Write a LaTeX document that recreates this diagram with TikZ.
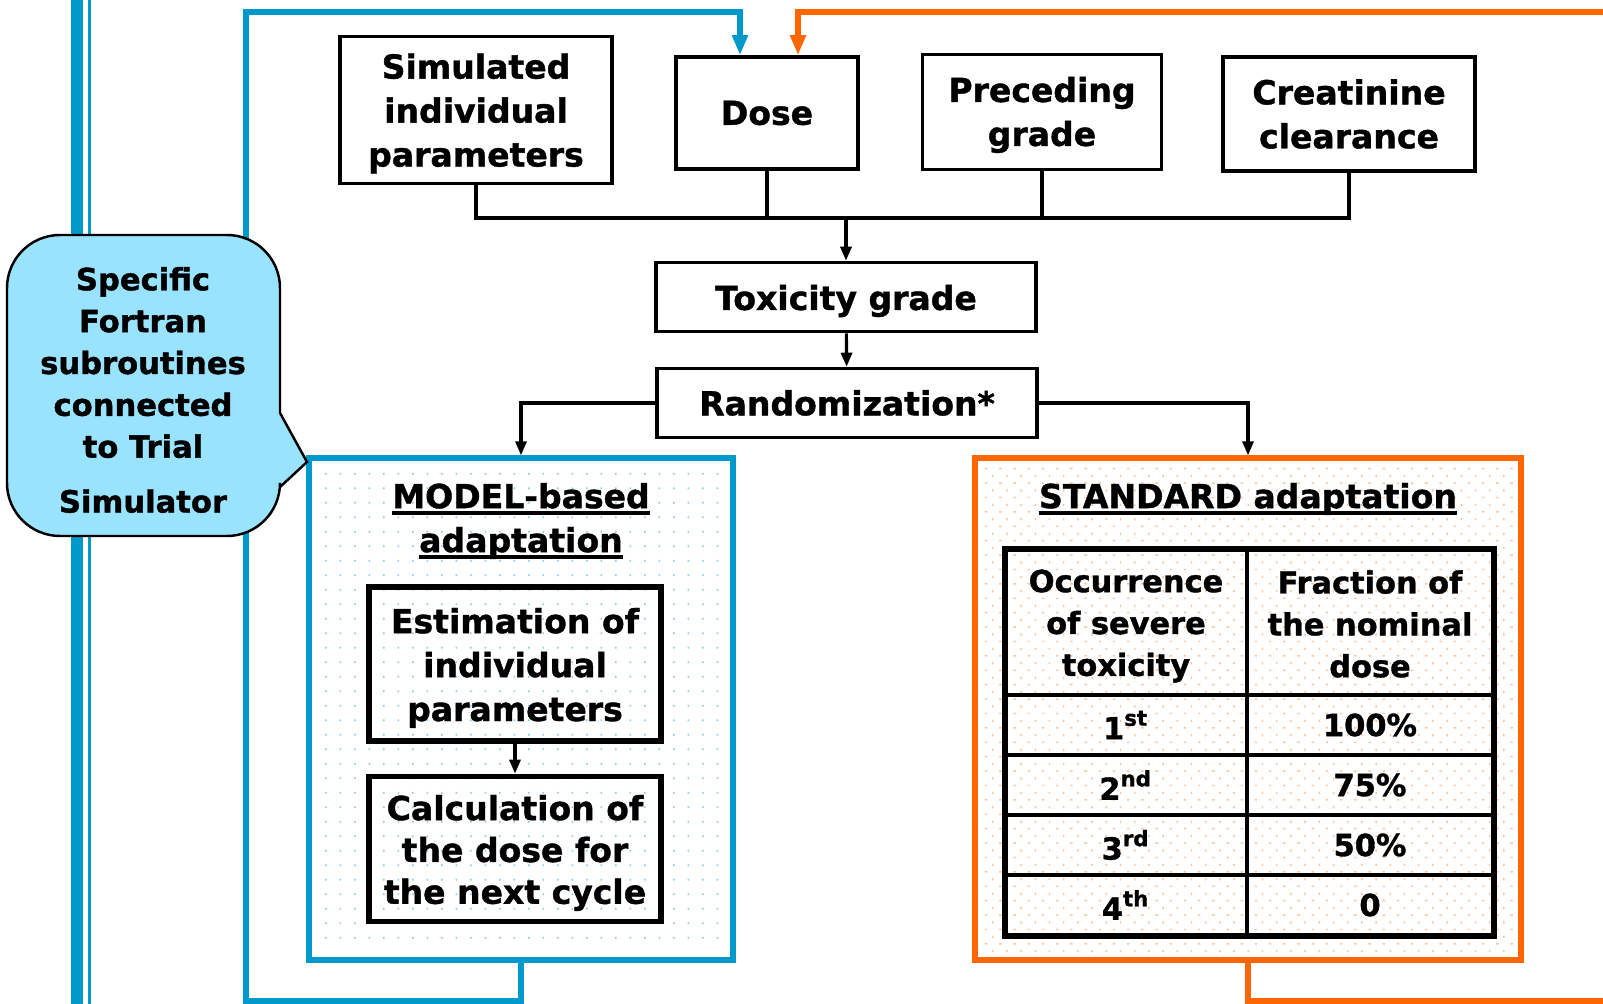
\documentclass[tikz,border=0pt]{standalone}
\usepackage{fontspec}
\setmainfont{DejaVu Sans}[BoldFeatures={FakeBold=1.2}]
\usetikzlibrary{arrows.meta}
\definecolor{lineblue}{RGB}{0,153,204}
\definecolor{lineora}{RGB}{255,102,0}
\definecolor{callfill}{RGB}{153,227,255}
\definecolor{dotblue}{RGB}{125,205,232}
\definecolor{dotora}{RGB}{255,196,150}
\newcommand{\thul}[1]{\leavevmode\setbox0=\hbox{#1}\rlap{\rule[-0.065cm]{\wd0}{0.035cm}}\box0}
\newcommand{\liftline}{\rule{0pt}{0.33cm}}

\begin{document}
\begin{tikzpicture}[x=0.01cm,y=-0.01cm,
 txt/.style={font=\fontsize{9.4}{12.5}\selectfont\bfseries,align=center,inner sep=0pt},
 tabtxt/.style={font=\fontsize{8.65}{11.9}\selectfont\bfseries,align=center,inner sep=0pt},
 calltxt/.style={font=\fontsize{8.7}{11.9}\selectfont\bfseries,align=center,inner sep=0pt},
 inbox/.style={txt,draw,line width=1pt},
 fatbox/.style={txt,draw,line width=1.6pt},
 conn/.style={line width=0.9pt},
 arr/.style={conn,-{Triangle[length=0.14cm,width=0.11cm]}},
 loopblue/.style={lineblue,line width=1.45pt,-{Triangle[length=0.2cm,width=0.15cm]}},
 loopora/.style={lineora,line width=1.45pt,-{Triangle[length=0.2cm,width=0.15cm]}}]
\useasboundingbox (0,0) rectangle (1603,1004);

% dotted backgrounds
\fill[dotblue] \foreach \x in {325,339.5,...,725} {\foreach \y in {473,487.5,...,950} {(\x,\y) rectangle ++(1.7,1.7)}};
\fill[dotora] \foreach \x in {985,999.2,...,1512} {\foreach \y in {468,482.4,...,952} {(\x,\y) rectangle ++(2.4,1.4)}};
\fill[dotora] \foreach \x in {992,1006.2,...,1512} {\foreach \y in {475,489.4,...,952} {(\x,\y) rectangle ++(1.4,2.2)}};

% left double line
\fill[lineblue] (71,0) rectangle (83,1004);
\fill[lineblue] (88,0) rectangle (91,1004);

% inputs
\node[inbox,minimum width=2.72cm,minimum height=1.47cm] (sim) at (476,110) {\rule{0pt}{0.32cm}Simulated\\individual\\parameters};
\node[inbox,minimum width=1.82cm,minimum height=1.12cm] (dose) at (767,113) {Dose};
\node[inbox,minimum width=2.39cm,minimum height=1.15cm] (prec) at (1042,112) {\rule{0pt}{0.31cm}Preceding\\grade};
\node[inbox,minimum width=2.52cm,minimum height=1.14cm] (creat) at (1349,114) {Creatinine\\clearance};

\node[inbox,minimum width=3.8cm,minimum height=0.69cm] (tox) at (846,297) {\liftline Toxicity grade};
\node[inbox,minimum width=3.8cm,minimum height=0.69cm] (rand) at (847,403) {Randomization*};

% the two branches
\node[draw=lineblue,line width=1.7pt,minimum width=4.23cm,minimum height=5.01cm] (model) at (521,709) {};
\node[draw=lineora,line width=1.7pt,minimum width=5.46cm,minimum height=5.01cm] (std) at (1248,709) {};

\node[txt] (mtitle) at (521,521) {\thul{MODEL-based}\\\thul{adaptation}};
\node[txt] (stitle) at (1248,499) {\thul{STANDARD adaptation}};

\node[fatbox,minimum width=2.92cm,minimum height=1.54cm] (est) at (515,664) {\liftline Estimation of\\individual\\parameters};
\node[fatbox,font=\fontsize{9.4}{11.9}\selectfont\bfseries,minimum width=2.92cm,minimum height=1.45cm] (calc) at (515,849) {\liftline Calculation of\\the dose for\\the next cycle};

% table
\draw[line width=1.7pt] (1005,549) rectangle (1494,936);
\draw[conn] (1247,549) -- (1247,936);
\foreach \y in {695,755,815,875} \draw[conn] (1005,\y) -- (1494,\y);
\node[tabtxt] (occ) at (1126,626) {Occurrence\\of severe\\toxicity};
\node[tabtxt] (frac) at (1370,624) {Fraction of\\the nominal\\dose};
\foreach \y/\a/\b [count=\i] in {725/1\textsuperscript{st}/100\%,785/2\textsuperscript{nd}/75\%,845/3\textsuperscript{rd}/50\%,905/4\textsuperscript{th}/0} {
  \node[tabtxt] (occ\i) at (1126,\y) {\a};
  \node[tabtxt] (frac\i) at (1370,\y) {\b};
}

% connectors
\coordinate (bus) at (846,218);
\draw[conn] (sim.south) -- (sim.south |- bus) -- (creat.south |- bus) -- (creat.south);
\draw[conn] (dose.south) -- (dose.south |- bus);
\draw[conn] (prec.south) -- (prec.south |- bus);
\draw[arr] (tox.north |- bus) -- (tox.north);
\draw[arr] (tox) -- (rand);
\draw[arr] (rand.west) -| (model.north);
\draw[arr] (rand.east) -| (std.north);
\draw[arr] (est) -- (calc);

% feedback loops
\coordinate (btop) at (740,12);
\coordinate (otop) at (798,12);
\coordinate (oin) at (1603,12);
\coordinate (oout) at (1603,1001);
\draw[loopblue] (model.south) |- (246,1001) |- (btop) -- (btop |- dose.north);
\draw[loopora] (oin) -- (otop) -- (otop |- dose.north);
\draw[lineora,line width=1.45pt] (std.south) |- (oout);

% callout
\fill[callfill,rounded corners=0.53cm] (7,235) rectangle (280,536);
\fill[callfill] (278,413) -- (307,462) -- (278,487) -- cycle;
\draw[line width=0.7pt,rounded corners=0.53cm] (280,413) -- (280,235) -- (7,235) -- (7,536) -- (280,536) -- (280,487);
\draw[line width=0.7pt] (280,413) -- (307,462) -- (280,487);
\node[calltxt] (sub) at (143,390) {Specific\\Fortran\\subroutines\\connected\\to Trial\\[3.7pt]Simulator};
\end{tikzpicture}
\end{document}
